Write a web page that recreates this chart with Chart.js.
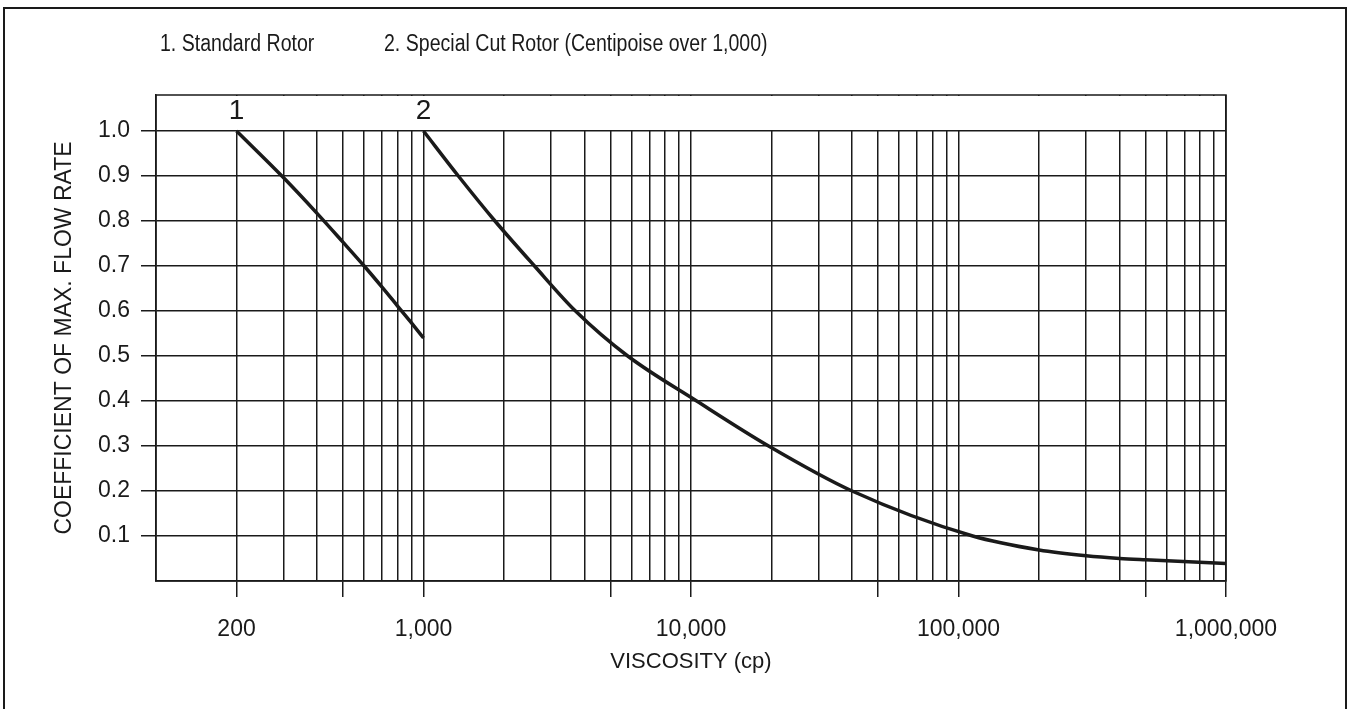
<!DOCTYPE html>
<html>
<head>
<meta charset="utf-8">
<script src="https://cdn.jsdelivr.net/npm/chart.js@4.4.1/dist/chart.umd.min.js"></script>
<style>
  html, body { margin: 0; padding: 0; background: #fff; }
  #wrap { position: relative; width: 1350px; height: 709px; overflow: hidden; }
  #frame { position: absolute; left: 3px; top: 7px; width: 1344px; height: 720px;
           border: 2px solid #1a1a1a; border-bottom: none; box-sizing: border-box; pointer-events: none; }
</style>
</head>
<body>
<div id="wrap">
  <canvas id="flowChart" width="1350" height="709"></canvas>
  <div id="frame"></div>
</div>
<script>
// Coefficient of max. flow rate vs viscosity, two rotor types
const rotorLabels = ['1. Standard Rotor', '2. Special Cut Rotor (Centipoise over 1,000)'];
const curveTags = ['1', '2'];

const standardVisc = [200, 300, 400, 500, 600, 700, 800, 900, 1000];
const standardCoef = [1.0, 0.896, 0.817, 0.753, 0.70, 0.653, 0.611, 0.574, 0.54];

const specialVisc = [1000, 1350, 1850, 2600, 3700, 5800, 10500, 19500, 40000, 113000,
                     200000, 300000, 400000, 500000, 1000000];
const specialCoef = [1.0, 0.9, 0.8, 0.7, 0.6, 0.5, 0.4, 0.3, 0.2, 0.1,
                     0.069, 0.056, 0.05, 0.047, 0.039];

const xTickLabels = [200, 1000, 10000, 100000, 1000000];
const xTickMarks = [200, 500, 1000, 5000, 10000, 50000, 100000, 500000, 1000000];
const yTickValues = [0.1, 0.2, 0.3, 0.4, 0.5, 0.6, 0.7, 0.8, 0.9, 1.0];

// vertical rulings: 2..9 of every decade, from 200 up to 1,000,000
const xGridValues = [];
[100, 1000, 10000, 100000].forEach(d => {
    for (let k = (d === 100 ? 2 : 1); k <= 9; k++) xGridValues.push(k * d);
});
xGridValues.push(1000000);

const ink = '#1a1a1a';
const tickFont = { family: '"Liberation Sans", Arial, sans-serif', size: 23 };

const chartFrame = {
    id: 'chartFrame',
    beforeDatasetsDraw(chart) {
        // the band above 1.0 has no vertical rulings
        const { ctx, chartArea: a, scales: { y } } = chart;
        const y1 = y.getPixelForValue(1.0);
        ctx.save();
        ctx.fillStyle = '#fff';
        ctx.fillRect(a.left + 1, a.top + 1, a.right - a.left - 2, y1 - a.top - 2);
        ctx.restore();
    },
    afterDraw(chart) {
        const { ctx, chartArea: a, scales: { x, y } } = chart;
        ctx.save();
        ctx.strokeStyle = ink;
        ctx.lineWidth = 1.5;
        ctx.strokeRect(a.left, a.top, a.right - a.left, a.bottom - a.top);

        ctx.fillStyle = ink;
        ctx.font = '28px "Liberation Sans", Arial, sans-serif';
        ctx.textAlign = 'center';
        ctx.textBaseline = 'bottom';
        const yTop = y.getPixelForValue(1.0) - 6;
        ctx.fillText(curveTags[0], x.getPixelForValue(standardVisc[0]), yTop);
        ctx.fillText(curveTags[1], x.getPixelForValue(specialVisc[0]), yTop);

        // condensed caption line
        ctx.font = '23px "Liberation Sans", Arial, sans-serif';
        ctx.textAlign = 'left';
        ctx.textBaseline = 'middle';
        const sx = 0.85;
        ctx.translate(a.left + 4, 45);
        ctx.scale(sx, 1);
        ctx.fillText(rotorLabels[0], 0, 0);
        ctx.fillText(rotorLabels[1], 224 / sx, 0);
        ctx.restore();
    }
};

const ctx = document.getElementById('flowChart').getContext('2d');
new Chart(ctx, {
    type: 'line',
    data: {
        datasets: [
            {
                label: rotorLabels[0],
                data: standardVisc.map((v, i) => ({ x: v, y: standardCoef[i] })),
                borderColor: ink,
                borderWidth: 3.5,
                pointRadius: 0,
                cubicInterpolationMode: 'monotone'
            },
            {
                label: rotorLabels[1],
                data: specialVisc.map((v, i) => ({ x: v, y: specialCoef[i] })),
                borderColor: ink,
                borderWidth: 3.5,
                pointRadius: 0,
                cubicInterpolationMode: 'monotone'
            }
        ]
    },
    options: {
        responsive: false,
        animation: false,
        devicePixelRatio: 1,
        layout: { padding: { top: 95, left: 0, right: 124, bottom: 0 } },
        plugins: {
            legend: { display: false },
            tooltip: { enabled: false }
        },
        scales: {
            x: {
                type: 'logarithmic',
                min: 100,
                max: 1000000,
                afterBuildTicks: scale => { scale.ticks = xGridValues.map(v => ({ value: v })); },
                afterFit: scale => { scale.height = 128; },
                grid: {
                    color: ink,
                    lineWidth: 1.5,
                    tickLength: 16,
                    tickColor: c => (c.tick && xTickMarks.includes(c.tick.value)) ? ink : 'rgba(0,0,0,0)'
                },
                border: { color: ink, width: 1.5 },
                ticks: {
                    autoSkip: false,
                    maxRotation: 0,
                    padding: 19,
                    color: ink,
                    font: tickFont,
                    callback: v => xTickLabels.includes(v) ? v.toLocaleString('en-US') : ''
                },
                title: {
                    display: true,
                    text: 'VISCOSITY (cp)',
                    color: ink,
                    font: { family: '"Liberation Sans", Arial, sans-serif', size: 22 },
                    padding: { top: 0, bottom: 34 }
                }
            },
            y: {
                min: 0,
                max: 1.08,
                afterBuildTicks: scale => { scale.ticks = yTickValues.map(v => ({ value: v })); },
                afterFit: scale => { scale.width = 156; },
                grid: { color: ink, lineWidth: 1.5, tickLength: 15 },
                border: { color: ink, width: 1.5 },
                ticks: {
                    padding: 11,
                    color: ink,
                    font: tickFont,
                    callback: v => v.toFixed(1)
                },
                title: {
                    display: true,
                    text: 'COEFFICIENT OF MAX. FLOW RATE',
                    color: ink,
                    font: { family: '"Liberation Sans", Arial, sans-serif', size: 23 },
                    padding: { top: 51, bottom: 0 }
                }
            }
        }
    },
    plugins: [chartFrame]
});
</script>
</body>
</html>
